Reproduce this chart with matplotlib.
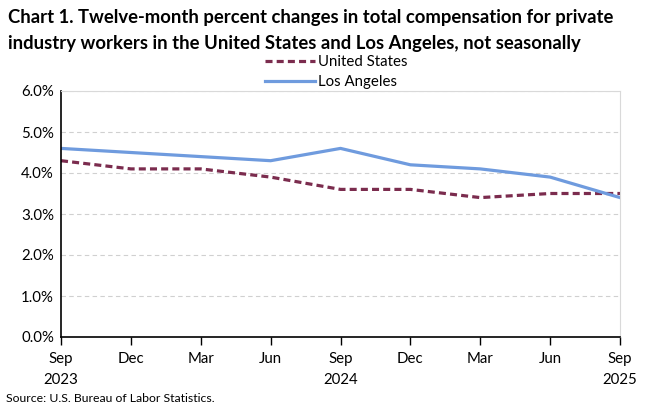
import matplotlib.pyplot as plt
from matplotlib.ticker import FuncFormatter

months = ["Sep\n2023", "Dec", "Mar", "Jun", "Sep\n2024", "Dec", "Mar", "Jun", "Sep\n2025"]
us = [4.3, 4.1, 4.1, 3.9, 3.6, 3.6, 3.4, 3.5, 3.5]
la = [4.6, 4.5, 4.4, 4.3, 4.6, 4.2, 4.1, 3.9, 3.4]

plt.rcParams['font.family'] = ['Lato', 'DejaVu Sans']

fig = plt.figure(figsize=(6.52, 4.07), dpi=100)
ax = fig.add_axes([61 / 652, 1 - 337 / 407, (620 - 61) / 652, (337 - 91) / 407])

x = list(range(len(months)))
ax.plot(x, us, color="#7B2C4E", lw=2.3, ls=(0, (2.2, 1.3)), label="United States")
ax.plot(x, la, color="#6F9BDE", lw=2.3, label="Los Angeles")

ax.set_xlim(0, len(months) - 1)
ax.set_ylim(0, 6)
ax.set_yticks([0, 1, 2, 3, 4, 5, 6])
ax.yaxis.set_major_formatter(FuncFormatter(lambda v, p: f"{v:.1f}%"))
ax.set_xticks(x)
ax.set_xticklabels(months, fontsize=10.8, linespacing=1.65)
ax.tick_params(axis='y', length=0, labelsize=10.8, pad=5)
ax.tick_params(axis='x', length=6, width=1, direction='out', pad=5)
ax.grid(axis='y', color="#D0D0D0", ls=(0, (4, 3)), lw=0.8)

for s in ['top', 'right']:
    ax.spines[s].set_color("#D9D9D9")
for s in ['left', 'bottom']:
    ax.spines[s].set_color("black")
    ax.spines[s].set_linewidth(1.2)

fig.text(8 / 652, 1 - 18 / 407, "Chart 1. Twelve-month percent changes in total compensation for private",
         fontsize=13.3, fontweight='bold', va='center', ha='left')
fig.text(8 / 652, 1 - 43 / 407, "industry workers in the United States and Los Angeles, not seasonally",
         fontsize=13.3, fontweight='bold', va='center', ha='left')

fig.legend(loc='center', bbox_to_anchor=(336 / 652, 1 - 72 / 407), frameon=False,
           fontsize=10.8, handlelength=3.3, handletextpad=0.2, labelspacing=0.4,
           borderpad=0)

fig.text(6 / 652, 1 - 398 / 407, "Source: U.S. Bureau of Labor Statistics.", fontsize=8.8, va='center', ha='left')

fig.savefig("out.png", dpi=100)
